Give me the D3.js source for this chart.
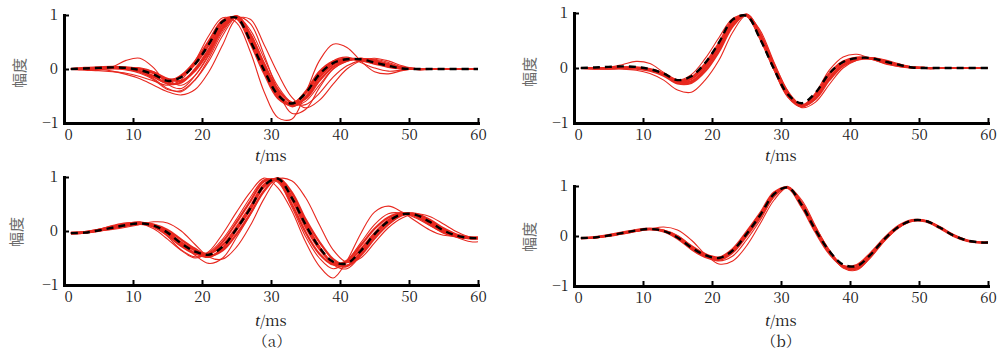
<!DOCTYPE html>
<html><head><meta charset="utf-8">
<script src="https://cdn.jsdelivr.net/npm/d3@7"></script>
<style>body{margin:0;background:#fff}svg{display:block}</style>
</head><body>
<svg id="chart" width="1006" height="355"></svg>
<script>
// ---- data ----
const times = [1,3,5,7,9,11,13,15,17,19,21,23,25,27,29,31,33,35,37,39,41,43,45,47,49,51,53,55,57,59,60];
const xTicks = [0,10,20,30,40,50,60];
const yTicks = [-1,0,1];
const yTickLabels = {"-1":"\u22121","0":"0","1":"1"};
const yTitle = "幅度";
const xTitleItalic = "t";
const xTitleRest = "/ms";
const captions = ["（a）","（b）"];

const meanTop = [0,0.01,0.02,0.03,0.02,-0.02,-0.1,-0.22,-0.15,0.09,0.46,0.88,0.95,0.52,-0.02,-0.48,-0.64,-0.45,-0.1,0.11,0.18,0.18,0.12,0.06,0.01,0,0,0,0,0,0];
const meanBottom = [-0.04,-0.03,0.01,0.06,0.11,0.14,0.1,-0.03,-0.23,-0.38,-0.44,-0.29,0.04,0.42,0.84,0.97,0.62,0.12,-0.3,-0.57,-0.6,-0.37,-0.06,0.18,0.31,0.3,0.17,0.01,-0.09,-0.13,-0.13];

const topA_band = [
 [0,0.01,0.02,0.02,0,-0.05,-0.15,-0.25,-0.12,0.14,0.52,0.9,0.94,0.48,-0.08,-0.54,-0.66,-0.42,-0.05,0.14,0.19,0.16,0.1,0.04,0.01,0,0,0,0,0,0],
 [0,0,0.01,0.02,0.02,0,-0.06,-0.18,-0.22,-0.03,0.32,0.77,0.98,0.64,0.1,-0.38,-0.62,-0.55,-0.22,0.04,0.16,0.19,0.15,0.08,0.02,0,0,0,0,0,0],
 [0,0,0.01,0.02,0.01,-0.04,-0.13,-0.27,-0.25,0,0.37,0.82,0.96,0.58,0.04,-0.47,-0.68,-0.52,-0.16,0.08,0.17,0.18,0.13,0.06,0.01,0,0,0,0,0,0],
 [0,0.02,0.03,0.04,0.03,0,-0.08,-0.2,-0.14,0.09,0.45,0.87,0.96,0.54,0,-0.49,-0.64,-0.45,-0.1,0.12,0.19,0.17,0.11,0.05,0.01,0,0,0,0,0,0]
];
const topA_out = [
 [0,0,-0.01,0.04,0.16,0.2,0.02,-0.28,-0.36,-0.12,0.28,0.75,0.99,0.66,0.1,-0.42,-0.68,-0.6,-0.3,0,0.15,0.2,0.17,0.1,0.03,0,0,0,0,0,0],
 [0,-0.02,-0.03,-0.05,-0.08,-0.14,-0.22,-0.3,-0.2,0.15,0.62,0.95,0.86,0.32,-0.42,-0.9,-0.93,-0.45,0.15,0.46,0.4,0.15,-0.05,-0.09,-0.03,0,0,0,0,0,0],
 [0,0.01,0,-0.04,-0.1,-0.18,-0.3,-0.42,-0.48,-0.38,-0.05,0.45,0.93,0.92,0.45,-0.08,-0.52,-0.72,-0.58,-0.28,0,0.15,0.18,0.12,0.04,0,0,0,0,0,0],
 [0,0,0.01,0.01,-0.02,-0.08,-0.2,-0.38,-0.4,-0.2,0.15,0.62,0.96,0.84,0.26,-0.4,-0.82,-0.75,-0.35,0,0.14,0.2,0.16,0.08,0.02,0,0,0,0,0,0],
 [0,0.01,0.02,0.02,0,-0.06,-0.18,-0.36,-0.42,-0.2,0.2,0.68,0.97,0.72,0.2,-0.32,-0.62,-0.66,-0.45,-0.15,0.06,0.16,0.2,0.15,0.06,0,0,0,0,0,0],
 [0,-0.01,-0.01,0,0.02,0.02,-0.05,-0.2,-0.3,-0.12,0.25,0.72,0.97,0.64,0.08,-0.44,-0.7,-0.55,-0.15,0.15,0.22,0.12,0.02,-0.04,-0.02,0,0,0,0,0,0]
];
const topB_band = [
 [0,0,0,0.01,0,-0.04,-0.12,-0.25,-0.2,0.04,0.4,0.83,0.96,0.55,0,-0.5,-0.68,-0.5,-0.12,0.1,0.17,0.17,0.11,0.05,0.01,0,0,0,0,0,0],
 [0,-0.01,-0.01,0,0,-0.03,-0.11,-0.24,-0.24,-0.01,0.36,0.8,0.97,0.6,0.03,-0.47,-0.7,-0.55,-0.18,0.06,0.16,0.18,0.12,0.05,0.01,0,0,0,0,0,0],
 [0,-0.01,0,0.01,0.01,-0.02,-0.1,-0.22,-0.17,0.08,0.45,0.87,0.95,0.53,-0.02,-0.52,-0.7,-0.48,-0.1,0.12,0.19,0.17,0.1,0.04,0.01,0,0,0,0,0,0],
 [0,0,0,0,-0.01,-0.05,-0.14,-0.28,-0.27,-0.06,0.3,0.76,0.97,0.62,0.06,-0.44,-0.68,-0.56,-0.22,0.04,0.15,0.18,0.13,0.06,0.01,0,0,0,0,0,0]
];
const topB_out = [
 [0,0,0.01,0.06,0.12,0.08,-0.08,-0.22,-0.12,0.17,0.55,0.9,0.95,0.52,-0.04,-0.52,-0.7,-0.45,-0.04,0.2,0.25,0.17,0.08,0.03,0,0,0,0,0,0,0],
 [0,-0.01,-0.02,-0.02,-0.04,-0.1,-0.22,-0.4,-0.44,-0.22,0.14,0.65,0.96,0.68,0.1,-0.42,-0.72,-0.62,-0.3,0,0.14,0.19,0.15,0.08,0.02,0,0,0,0,0,0]
];
const botA_band = [
 [-0.04,-0.02,0.02,0.08,0.13,0.15,0.08,-0.08,-0.28,-0.42,-0.42,-0.2,0.16,0.55,0.92,0.93,0.5,-0.02,-0.42,-0.62,-0.55,-0.27,0.04,0.25,0.33,0.27,0.12,-0.03,-0.11,-0.13,-0.13],
 [-0.04,-0.03,0,0.05,0.1,0.14,0.12,0.02,-0.16,-0.33,-0.46,-0.36,-0.06,0.32,0.74,0.98,0.72,0.22,-0.2,-0.52,-0.64,-0.45,-0.14,0.12,0.29,0.32,0.21,0.05,-0.07,-0.12,-0.12],
 [-0.05,-0.03,0.01,0.06,0.1,0.13,0.09,-0.05,-0.25,-0.41,-0.48,-0.32,0.02,0.4,0.82,0.97,0.64,0.14,-0.3,-0.6,-0.65,-0.4,-0.08,0.17,0.31,0.31,0.18,0.02,-0.09,-0.14,-0.14],
 [-0.03,-0.02,0.02,0.07,0.12,0.15,0.11,-0.02,-0.21,-0.36,-0.42,-0.26,0.07,0.45,0.86,0.96,0.59,0.08,-0.33,-0.58,-0.58,-0.34,-0.04,0.2,0.32,0.29,0.15,0,-0.1,-0.13,-0.13]
];
const botA_out = [
 [-0.04,-0.03,0,0.03,0.07,0.12,0.17,0.15,0,-0.25,-0.48,-0.52,-0.3,0.1,0.6,0.96,0.93,0.62,0.12,-0.35,-0.58,-0.5,-0.22,0.06,0.24,0.32,0.27,0.13,-0.02,-0.12,-0.13],
 [-0.04,-0.02,0.03,0.1,0.15,0.14,0.04,-0.15,-0.36,-0.5,-0.38,-0.05,0.35,0.72,0.98,0.8,0.38,-0.2,-0.65,-0.87,-0.55,-0.05,0.35,0.46,0.35,0.18,0.02,-0.08,-0.1,-0.11,-0.11],
 [-0.05,-0.04,0,0.05,0.1,0.14,0.12,0,-0.22,-0.45,-0.6,-0.5,-0.12,0.3,0.75,0.98,0.7,0.18,-0.28,-0.62,-0.7,-0.45,-0.1,0.15,0.3,0.32,0.2,0.02,-0.12,-0.2,-0.2],
 [-0.04,-0.02,0.02,0.08,0.14,0.17,0.1,-0.1,-0.35,-0.48,-0.4,-0.15,0.22,0.62,0.95,0.9,0.45,-0.1,-0.5,-0.7,-0.55,-0.22,0.12,0.32,0.33,0.24,0.1,-0.03,-0.1,-0.13,-0.13]
];
const botB_band = [
 [-0.04,-0.03,0.01,0.06,0.11,0.14,0.1,-0.03,-0.24,-0.4,-0.46,-0.3,0.04,0.42,0.84,0.97,0.62,0.12,-0.32,-0.6,-0.62,-0.37,-0.06,0.18,0.31,0.3,0.17,0.01,-0.09,-0.13,-0.13],
 [-0.05,-0.03,0,0.05,0.1,0.13,0.09,-0.05,-0.26,-0.42,-0.48,-0.33,0,0.38,0.8,0.98,0.66,0.15,-0.3,-0.62,-0.65,-0.4,-0.08,0.17,0.3,0.3,0.18,0.02,-0.09,-0.13,-0.13],
 [-0.04,-0.02,0.02,0.07,0.12,0.15,0.11,-0.01,-0.2,-0.36,-0.43,-0.26,0.08,0.46,0.87,0.96,0.58,0.08,-0.35,-0.6,-0.58,-0.34,-0.04,0.2,0.32,0.29,0.16,0,-0.1,-0.13,-0.13]
];
const botB_out = [
 [-0.04,-0.03,0,0.04,0.09,0.14,0.18,0.12,-0.08,-0.36,-0.56,-0.5,-0.2,0.25,0.72,0.97,0.72,0.2,-0.3,-0.64,-0.68,-0.42,-0.08,0.17,0.3,0.31,0.18,0.02,-0.09,-0.13,-0.13],
 [-0.05,-0.04,0,0.05,0.1,0.14,0.12,0.01,-0.2,-0.4,-0.5,-0.4,-0.08,0.32,0.78,0.98,0.68,0.18,-0.28,-0.6,-0.66,-0.43,-0.1,0.16,0.3,0.31,0.18,0.02,-0.09,-0.13,-0.13]
];

// ---- layout ----
const RED = "#e8281f";
const SERIF = '"Liberation Serif"';
const SONG = '"Noto Serif CJK SC"';
const HEI = '"Noto Sans CJK SC"';
const panels = [
 {x0:64, x1:478, yTop:15, yBot:123, mean:meanTop, band:topA_band, out:topA_out, yl:[20,73], xl:[271,161], cap:null},
 {x0:574, x1:988, yTop:13, yBot:123, mean:meanTop, band:topB_band, out:topB_out, yl:[530,72], xl:[781,161], cap:null},
 {x0:64, x1:478, yTop:177, yBot:285, mean:meanBottom, band:botA_band, out:botA_out, yl:[17,232], xl:[271,326], cap:[272,347,0]},
 {x0:574, x1:988, yTop:186, yBot:286, mean:meanBottom, band:botB_band, out:botB_out, yl:[530,237], xl:[781,326], cap:[781,347,1]}
];

const svg = d3.select("#chart");

panels.forEach(p => {
  const x = d3.scaleLinear().domain([0,60]).range([p.x0,p.x1]);
  const y = d3.scaleLinear().domain([-1,1]).range([p.yBot,p.yTop]);
  const line = d3.line().x((d,i)=>x(times[i])).y(d=>y(d)).curve(d3.curveCatmullRom.alpha(0.5));
  const g = svg.append("g");

  g.selectAll("path.out").data(p.out).join("path").attr("class","out")
    .attr("d", line).attr("fill","none").attr("stroke",RED).attr("stroke-width",1.1);
  g.selectAll("path.band").data(p.band).join("path").attr("class","band")
    .attr("d", line).attr("fill","none").attr("stroke",RED).attr("stroke-width",2.2);
  g.append("path").attr("d", line(p.mean)).attr("fill","none")
    .attr("stroke","#000").attr("stroke-width",2.4).attr("stroke-dasharray","7,5");

  const gx = g.append("g").attr("transform",`translate(0,${p.yBot})`)
    .call(d3.axisBottom(x).tickValues(xTicks).tickSize(-5).tickSizeOuter(0).tickPadding(6));
  const gy = g.append("g").attr("transform",`translate(${p.x0},0)`)
    .call(d3.axisLeft(y).tickValues(yTicks).tickSize(-5).tickSizeOuter(0).tickPadding(6)
      .tickFormat(d=>yTickLabels[String(d)]));
  [gx,gy].forEach(a=>{
    a.attr("font-family",null).attr("font-size",null);
    a.selectAll(".tick text").style("font-family",SONG).style("font-size","15px").attr("fill","#222");
    a.select(".domain").attr("stroke","#000").attr("stroke-width",3).attr("stroke-linecap","square");
    a.selectAll(".tick line").attr("stroke","#000").attr("stroke-width",2);
  });
  gx.selectAll(".tick text").filter(d=>d===0).attr("dx",4);

  g.append("text").attr("transform",`translate(${p.yl[0]},${p.yl[1]}) rotate(-90)`)
    .attr("text-anchor","middle").attr("dy","0.35em")
    .style("font-family",HEI).style("font-size","15px").attr("fill","#6a6a6a")
    .text(yTitle);

  const xt = g.append("text").attr("x",p.xl[0]).attr("y",p.xl[1]).attr("text-anchor","middle")
    .style("font-family",SONG).style("font-size","15px").attr("fill","#222");
  xt.append("tspan").style("font-family",SERIF).style("font-style","italic").style("font-size","17px").text(xTitleItalic);
  xt.append("tspan").text(xTitleRest);

  if (p.cap) {
    g.append("text").attr("x",p.cap[0]).attr("y",p.cap[1]).attr("text-anchor","middle")
      .style("font-family",SONG).style("font-size","15px").attr("fill","#222")
      .text(captions[p.cap[2]]);
  }
});
</script>
</body></html>
